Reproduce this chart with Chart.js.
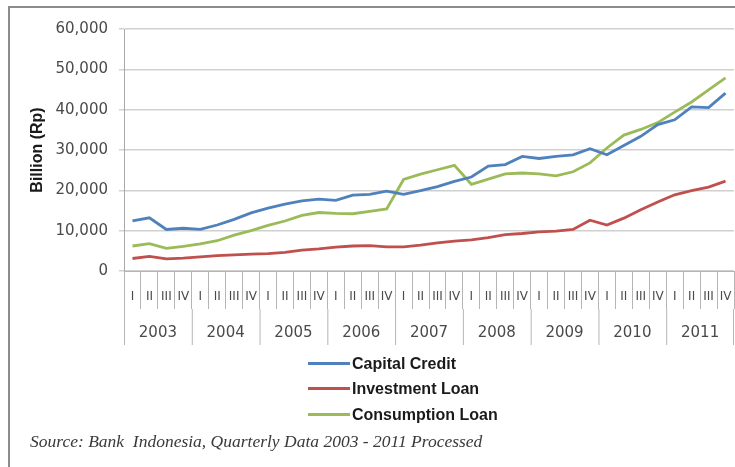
<!DOCTYPE html>
<html>
<head>
<meta charset="utf-8">
<script src="https://cdn.jsdelivr.net/npm/chart.js@4.4.1/dist/chart.umd.min.js"></script>
<style>
  body { margin: 0; background: #fff; }
  #wrap { position: relative; width: 735px; height: 467px; overflow: hidden; }
  #frame { position: absolute; left: 8px; top: 6px; width: 800px; height: 500px;
           border-left: 2px solid #8c8c8c; border-top: 2px solid #8c8c8c; }
  canvas { position: absolute; left: 0; top: 0; }
  .leg { position: absolute; left: 308px; font: bold 16px "Liberation Sans", Arial, sans-serif; color: #1a1a1a; }
  .leg span { display: inline-block; width: 42px; height: 3px; vertical-align: middle; margin-right: 2px; position: relative; top: -1px; }
  #src { position: absolute; left: 30px; top: 431px; font: italic 17.5px "Liberation Serif", serif; color: #3a3a3a; white-space: pre; }
</style>
</head>
<body>
<div id="wrap">
  <div id="frame"></div>
  <canvas id="grafica" width="735" height="467"></canvas>
  <div class="leg" style="top:355px"><span style="background:#4F81BD"></span>Capital Credit</div>
  <div class="leg" style="top:380px"><span style="background:#C0504D"></span>Investment Loan</div>
  <div class="leg" style="top:406px"><span style="background:#9BBB59"></span>Consumption Loan</div>
  <div id="src">Source: Bank  Indonesia, Quarterly Data 2003 - 2011 Processed</div>
</div>
<script>
// === DATOS ===
const years = ["2003", "2004", "2005", "2006", "2007", "2008", "2009", "2010", "2011"];
const quarters = ["I", "II", "III", "IV"];

// Billion (Rp), trimestral 2003 I - 2011 IV
const capitalCredit = [
    12400, 13200, 10300, 10600, 10300, 11400, 12800, 14400,
    15600, 16600, 17400, 17800, 17500, 18800, 19000, 19800,
    19000, 19900, 20900, 22200, 23300, 26000, 26400, 28400,
    27900, 28400, 28800, 30300, 28800, 31100, 33400, 36300,
    37500, 40700, 40500, 44100
];
const investmentLoan = [
    3100, 3600, 3000, 3200, 3500, 3800, 4000, 4200,
    4300, 4600, 5200, 5500, 5900, 6200, 6300, 6000,
    6000, 6400, 7000, 7400, 7700, 8300, 9000, 9300,
    9700, 9900, 10300, 12600, 11400, 13100, 15200, 17100,
    18900, 19900, 20800, 22300
];
const consumptionLoan = [
    6200, 6800, 5600, 6100, 6700, 7500, 8900, 10000,
    11300, 12400, 13800, 14500, 14300, 14200, 14800, 15400,
    22700, 24000, 25100, 26200, 21500, 22800, 24100, 24300,
    24100, 23600, 24600, 26800, 30500, 33700, 35100, 36800,
    39400, 41900, 44900, 47900
];

const labels = [];
years.forEach(y => quarters.forEach(q => labels.push(q)));

// === ETIQUETAS DEL EJE X (trimestre + año) ===
const ejeMultinivel = {
    id: "ejeMultinivel",
    afterDraw(chart) {
        const { ctx } = chart;
        const x = chart.scales.x;
        const step = x.getPixelForValue(1) - x.getPixelForValue(0);
        const top = x.top;

        ctx.save();
        ctx.fillStyle = "#4a4a4a";
        ctx.textAlign = "center";
        ctx.textBaseline = "middle";

        // trimestres
        ctx.font = "12px 'DejaVu Sans'";
        labels.forEach((q, i) => {
            ctx.fillText(q, x.getPixelForValue(i), top + 26);
        });

        // separadores de año y años
        ctx.strokeStyle = "#b5b5b5";
        ctx.lineWidth = 1;
        ctx.font = "15px 'DejaVu Sans'";
        years.forEach((y, k) => {
            const start = x.getPixelForValue(k * 4) - step / 2;
            ctx.beginPath();
            ctx.moveTo(start + 0.5, top + 38);
            ctx.lineTo(start + 0.5, top + 74);
            ctx.stroke();
            ctx.fillText(y, start + step * 2, top + 62);
        });
        const end = x.getPixelForValue(labels.length - 1) + step / 2;
        ctx.beginPath();
        ctx.moveTo(end - 0.5, top + 38);
        ctx.lineTo(end - 0.5, top + 74);
        ctx.stroke();
        ctx.restore();
    }
};

// === CHART ===
const ctx = document.getElementById("grafica").getContext("2d");

const grafica = new Chart(ctx, {
    type: "line",
    data: {
        labels: labels,
        datasets: [
            { label: "Capital Credit", data: capitalCredit, borderColor: "#4F81BD" },
            { label: "Investment Loan", data: investmentLoan, borderColor: "#C0504D" },
            { label: "Consumption Loan", data: consumptionLoan, borderColor: "#9BBB59" }
        ]
    },
    options: {
        responsive: false,
        animation: false,
        devicePixelRatio: 1,
        elements: {
            line: { borderWidth: 2.8, tension: 0 },
            point: { radius: 0 }
        },
        layout: { padding: { left: 20, top: 29, right: 1, bottom: 156 } },
        plugins: { legend: { display: false }, tooltip: { enabled: false } },
        scales: {
            x: {
                offset: true,
                ticks: { display: false },
                grid: { offset: true, drawOnChartArea: false, tickLength: 38, color: "#b5b5b5" },
                border: { color: "#b5b5b5" },
                afterFit: s => { s.height = 40; }
            },
            y: {
                min: 0,
                max: 60000,
                ticks: {
                    stepSize: 10000,
                    padding: 11,
                    color: "#4a4a4a",
                    font: { family: "DejaVu Sans", size: 15 },
                    callback: v => v.toLocaleString("en-US")
                },
                grid: { color: "#d0d0d0", lineWidth: 1.5, tickLength: 5 },
                border: { color: "#a8a8a8" },
                title: {
                    display: true,
                    text: "Billion (Rp)",
                    color: "#1a1a1a",
                    font: { family: "Liberation Sans", size: 16, weight: "bold" },
                    padding: { top: 8, bottom: 0 }
                },
                afterFit: s => { s.width = 104; }
            }
        }
    },
    plugins: [ejeMultinivel]
});
</script>
</body>
</html>
